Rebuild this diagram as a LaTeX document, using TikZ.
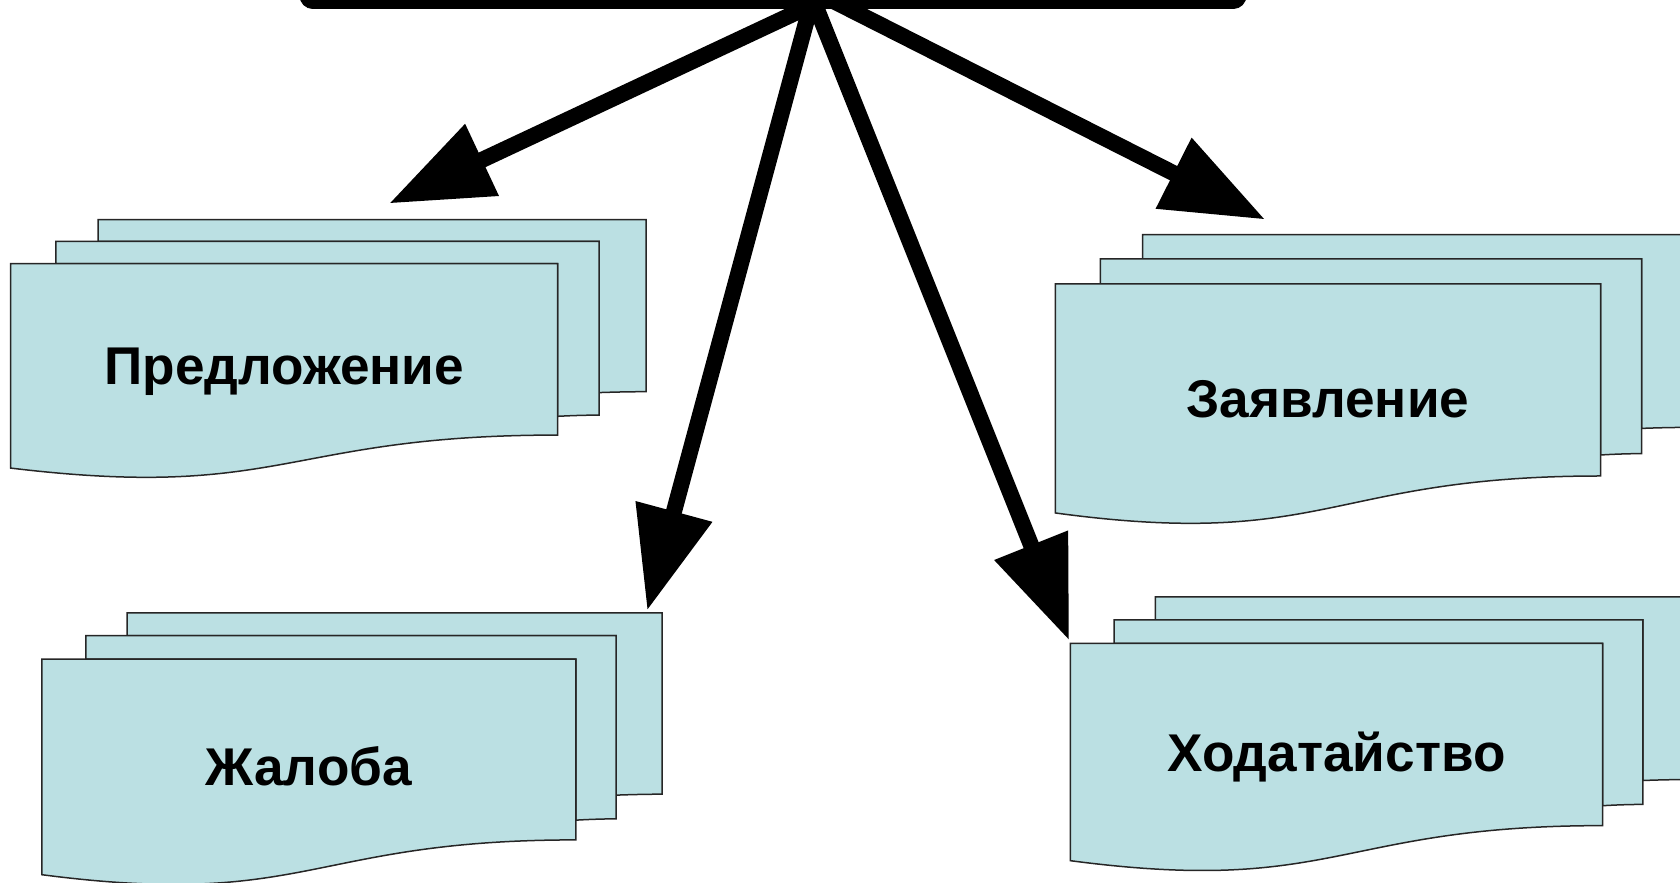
\documentclass[tikz,border=0pt]{standalone}
\usepackage{fontspec}
\setmainfont{Liberation Sans}
\usetikzlibrary{arrows.meta}
\definecolor{docfill}{RGB}{187,224,227}
\tikzset{
  sheet/.style={fill=docfill, draw=black!85, line width=0.7pt, line join=miter},
  doclabel/.style={font=\fontsize{24.8}{29}\selectfont\bfseries, anchor=base, inner sep=0pt},
  bigarrow/.style={line width=7.5pt, -{Triangle[length=48pt,width=35pt]}},
  topbar/.style={fill=black, draw=black, rounded corners=6pt, inner sep=0pt, minimum width=441.5pt, minimum height=44pt},
}
% #1 name, #2 x0, #3 y0, #4 W, #5 H, #6 text
\newcommand\multidoc[6]{%
  \begin{scope}[shift={(#2,#3)}, xscale=#4, yscale=#5]
    \path[sheet] (0.1376,0.0840) -- (0.1376,0) -- (1,0) -- (1,0.6663)
      .. controls (0.963,0.6663) and (0.9259,0.6698) .. (0.9259,0.6698)
      -- (0.9259,0.0840) -- cycle;
    \path[sheet] (0.0709,0.1701) -- (0.0709,0.0840) -- (0.9259,0.0840) -- (0.9259,0.7570)
      .. controls (0.8935,0.7570) and (0.8609,0.7617) .. (0.8609,0.7617)
      -- (0.8609,0.1701) -- cycle;
    \path[sheet] (0,0.1701) -- (0.8609,0.1701) -- (0.8609,0.8343)
      .. controls (0.4305,0.8343) and (0.4305,1.0899) .. (0,0.9621) -- cycle;
  \end{scope}
  \node[doclabel] (#1) at ({#2+0.43045*#4}, {#3+0.573*#5+16}) {#6};
}
\begin{document}
\begin{tikzpicture}[x=0.5pt, y=-0.5pt]
  \useasboundingbox (0,0) rectangle (1568,824);
  \clip (0,0) rectangle (1568,824);

  \multidoc{pred}{10}{205}{593}{241}{Предложение}
  \multidoc{zayav}{985}{219}{591}{270}{Заявление}
  \multidoc{zhal}{39}{572}{579}{254}{Жалоба}
  \multidoc{hod}{999}{557}{577}{256}{Ходатайство}

  \node[topbar] (top) at (721.5,-36) {};

  \coordinate (s1) at (768,0);
  \coordinate (s2) at (758,0);
  \coordinate (s3) at (759,0);
  \coordinate (s4) at (776,0);
  \coordinate (t1) at (363,190);
  \coordinate (t2) at (604,570);
  \coordinate (t3) at (998,598);
  \coordinate (t4) at (1181,205);

  \draw[bigarrow] (s1) -- (t1);
  \draw[bigarrow] (s2) -- (t2);
  \draw[bigarrow] (s3) -- (t3);
  \draw[bigarrow] (s4) -- (t4);
\end{tikzpicture}
\end{document}
